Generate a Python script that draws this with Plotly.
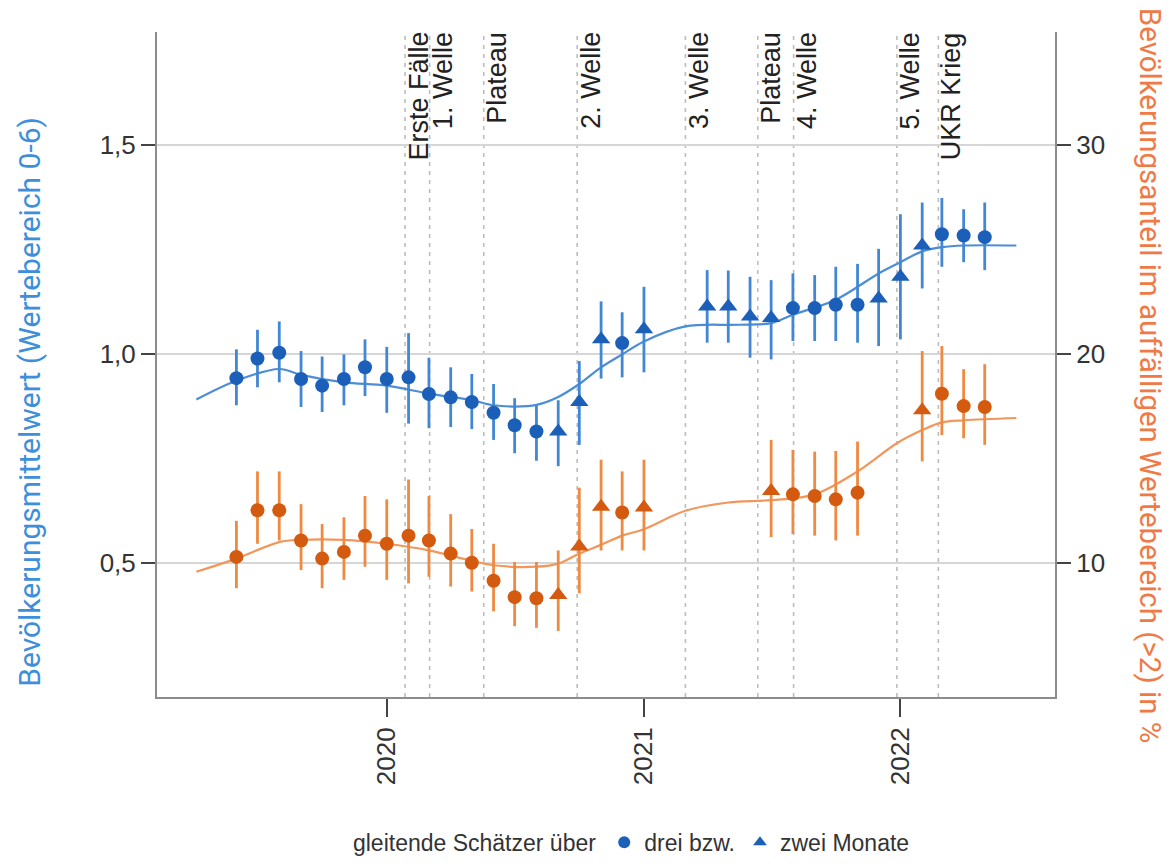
import plotly.graph_objects as go

# ---------------- data ----------------
# left axis: population mean (blue)
blue_dates = ["2019-06-01", "2019-07-01", "2019-08-01", "2019-09-01", "2019-10-01", "2019-11-01",
              "2019-12-01", "2020-01-01", "2020-02-01", "2020-03-01", "2020-04-01", "2020-05-01",
              "2020-06-01", "2020-07-01", "2020-08-01", "2020-09-01", "2020-10-01", "2020-11-01",
              "2020-12-01", "2021-01-01", "2021-04-01", "2021-05-01", "2021-06-01", "2021-07-01",
              "2021-08-01", "2021-09-01", "2021-10-01", "2021-11-01", "2021-12-01", "2022-01-01",
              "2022-02-01", "2022-03-01", "2022-04-01", "2022-05-01"]
blue_mean = [0.942, 0.989, 1.003, 0.940, 0.924, 0.940, 0.968, 0.940, 0.944, 0.904, 0.896, 0.885,
             0.859, 0.829, 0.814, 0.814, 0.885, 1.035, 1.026, 1.059, 1.114, 1.114, 1.090, 1.086,
             1.110, 1.110, 1.118, 1.118, 1.133, 1.185, 1.260, 1.287, 1.284, 1.280]
blue_lo = [0.877, 0.920, 0.932, 0.873, 0.861, 0.877, 0.899, 0.859, 0.833, 0.822, 0.825, 0.820,
           0.794, 0.762, 0.744, 0.731, 0.782, 0.941, 0.944, 0.956, 1.027, 1.027, 0.991, 0.987,
           1.031, 1.031, 1.031, 1.027, 1.019, 1.035, 1.157, 1.209, 1.220, 1.201]
blue_hi = [1.011, 1.058, 1.078, 1.007, 0.994, 0.999, 1.035, 1.017, 1.050, 0.991, 0.968, 0.952,
           0.928, 0.894, 0.877, 0.889, 0.983, 1.126, 1.100, 1.161, 1.201, 1.200, 1.185, 1.177,
           1.193, 1.189, 1.209, 1.216, 1.252, 1.335, 1.363, 1.374, 1.347, 1.363]
blue_kind = ["drei"] * 15 + ["zwei", "zwei", "zwei", "drei", "zwei",
                             "zwei", "zwei", "zwei", "zwei",
                             "drei", "drei", "drei", "drei",
                             "zwei", "zwei", "zwei", "drei", "drei", "drei"]

blue_line_dates = ["2019-04-05", "2019-06-01", "2019-08-01", "2019-09-01", "2019-11-01", "2020-01-01",
                   "2020-03-01", "2020-05-01", "2020-06-01", "2020-07-01", "2020-08-01", "2020-09-01",
                   "2020-10-01", "2020-11-01", "2020-12-01", "2021-01-01", "2021-03-01", "2021-05-15",
                   "2021-07-01", "2021-08-01", "2021-10-01", "2021-12-01", "2022-01-01", "2022-02-01",
                   "2022-03-01", "2022-04-01", "2022-06-15"]
blue_line_vals = [0.891, 0.936, 0.964, 0.950, 0.932, 0.924, 0.905, 0.889, 0.877, 0.874, 0.878, 0.897,
                  0.928, 0.968, 0.999, 1.030, 1.066, 1.070, 1.074, 1.094, 1.130, 1.193, 1.220, 1.246,
                  1.256, 1.260, 1.260]

# right axis: share in conspicuous range in % (orange)
orange_dates = ["2019-06-01", "2019-07-01", "2019-08-01", "2019-09-01", "2019-10-01", "2019-11-01",
                "2019-12-01", "2020-01-01", "2020-02-01", "2020-03-01", "2020-04-01", "2020-05-01",
                "2020-06-01", "2020-07-01", "2020-08-01", "2020-09-01", "2020-10-01", "2020-11-01",
                "2020-12-01", "2021-01-01", "2021-07-01", "2021-08-01", "2021-09-01", "2021-10-01",
                "2021-11-01", "2022-02-01", "2022-03-01", "2022-04-01", "2022-05-01"]
orange_mean = [10.27, 12.51, 12.51, 11.06, 10.19, 10.51, 11.29, 10.90, 11.29, 11.06, 10.43, 9.99,
               9.13, 8.34, 8.29, 8.45, 10.77, 12.67, 12.40, 12.64, 13.43, 13.27, 13.19, 13.03,
               13.35, 17.30, 18.09, 17.50, 17.46]
orange_lo = [8.77, 10.90, 11.06, 9.64, 8.77, 9.17, 9.80, 9.17, 9.00, 9.32, 8.85, 8.61,
             7.66, 6.95, 6.87, 6.72, 8.53, 10.58, 10.58, 10.58, 11.22, 11.37, 11.29, 11.06,
             11.29, 14.85, 16.11, 15.96, 15.64]
orange_hi = [12.00, 14.37, 14.37, 12.80, 11.85, 12.17, 13.19, 13.03, 13.98, 13.19, 12.32, 11.61,
             10.90, 10.03, 10.03, 10.58, 13.59, 14.93, 14.37, 14.93, 15.88, 15.40, 15.32, 15.35,
             15.80, 20.14, 20.38, 19.27, 19.51]
orange_kind = ["drei"] * 15 + ["zwei", "zwei", "zwei", "drei", "zwei",
                               "zwei", "drei", "drei", "drei", "drei",
                               "zwei", "drei", "drei", "drei"]

orange_line_dates = ["2019-04-05", "2019-06-01", "2019-08-01", "2019-09-01", "2019-11-01", "2020-01-01",
                     "2020-03-01", "2020-05-01", "2020-06-01", "2020-08-01", "2020-09-01", "2020-10-01",
                     "2020-11-01", "2020-12-01", "2021-01-01", "2021-03-01", "2021-05-01", "2021-07-01",
                     "2021-09-01", "2021-11-01", "2021-12-27", "2022-02-01", "2022-03-01", "2022-04-01",
                     "2022-06-15"]
orange_line_vals = [9.56, 10.19, 10.98, 11.09, 11.09, 10.90, 10.58, 10.08, 9.87, 9.80, 9.95, 10.43,
                    10.85, 11.29, 11.60, 12.48, 12.88, 12.99, 13.27, 14.37, 15.72, 16.35, 16.72, 16.82,
                    16.93]

event_dates = ["2020-01-27", "2020-03-02", "2020-05-18", "2020-09-28", "2021-03-01",
               "2021-06-12", "2021-08-02", "2021-12-27", "2022-02-24"]
event_labels = ["Erste Fälle", "1. Welle", "Plateau", "2. Welle", "3. Welle",
                "Plateau", "4. Welle", "5. Welle", "UKR Krieg"]

x_tick_vals = ["2020-01-01", "2021-01-01", "2022-01-01"]
x_tick_text = ["2020", "2021", "2022"]
y_tick_vals = [0.5, 1.0, 1.5]
y_tick_text = ["0,5", "1,0", "1,5"]
y2_tick_vals = [10, 20, 30]
y2_tick_text = ["10", "20", "30"]

left_title = "Bevölkerungsmittelwert (Wertebereich 0-6)"
right_title = "Bevölkerungsanteil im auffälligen Wertebereich (>2) in %"
legend_title = "gleitende Schätzer über"
legend_names = {"drei": "drei bzw.", "zwei": "zwei Monate"}

# ---------------- styles ----------------
BLUE_MK = "#1b5fb8"
BLUE_BAR = "#4287d3"
BLUE_LN = "#4b8dd6"
OR_MK = "#d35a0e"
OR_BAR = "#ee8a42"
OR_LN = "#f2975c"
FONT = "Liberation Sans, Arial, sans-serif"
TITLE_FONT = "Roboto, Liberation Sans, sans-serif"

Y_RANGE = [0.1777, 1.7718]
Y2_RANGE = [v * 20 for v in Y_RANGE]

fig = go.Figure()

fig.add_trace(go.Scatter(x=blue_line_dates, y=blue_line_vals, mode="lines",
                         line=dict(color=BLUE_LN, width=2.2, shape="spline", smoothing=1.0),
                         showlegend=False, hoverinfo="skip"))
fig.add_trace(go.Scatter(x=orange_line_dates, y=orange_line_vals, mode="lines", yaxis="y2",
                         line=dict(color=OR_LN, width=2.2, shape="spline", smoothing=1.0),
                         showlegend=False, hoverinfo="skip"))


def add_points(dates, mean, lo, hi, kinds, mk, bar, yaxis, legend):
    for kind, symbol, size in (("drei", "circle", 14), ("zwei", "triangle-up", 16)):
        idx = [i for i, k in enumerate(kinds) if k == kind]
        xs = [dates[i] for i in idx]
        ys = [mean[i] for i in idx]
        up = [hi[i] - mean[i] for i in idx]
        dn = [mean[i] - lo[i] for i in idx]
        fig.add_trace(go.Scatter(
            x=xs, y=ys, mode="markers", yaxis=yaxis,
            name=legend_names[kind], showlegend=legend,
            marker=dict(symbol=symbol, size=size, color=mk, line=dict(width=0)),
            error_y=dict(type="data", symmetric=False, array=up, arrayminus=dn,
                         color=bar, thickness=2.8, width=0),
        ))


add_points(orange_dates, orange_mean, orange_lo, orange_hi, orange_kind, OR_MK, OR_BAR, "y2", False)
add_points(blue_dates, blue_mean, blue_lo, blue_hi, blue_kind, BLUE_MK, BLUE_BAR, "y", True)

shapes = []
annotations = []
for d, lab in zip(event_dates, event_labels):
    shapes.append(dict(type="line", xref="x", yref="paper", x0=d, x1=d, y0=0, y1=0.995,
                       line=dict(color="#bdbdbd", width=1.6, dash="4px,5px"), layer="below"))
    annotations.append(dict(x=d, y=1.0, xref="x", yref="paper", text=lab, textangle=-90,
                            showarrow=False, xanchor="left", yanchor="top", xshift=-4, yshift=2,
                            font=dict(family=FONT, size=27, color="#222222")))

annotations.append(dict(x=-0.1414, y=0.444, xref="paper", yref="paper", text=left_title,
                        textangle=-90, showarrow=False, xanchor="center", yanchor="middle",
                        font=dict(family=TITLE_FONT, size=30, color="#3d8fdc")))
annotations.append(dict(x=1.1058, y=0.483, xref="paper", yref="paper", text=right_title,
                        textangle=90, showarrow=False, xanchor="center", yanchor="middle",
                        font=dict(family=TITLE_FONT, size=29.5, color="#f07a45")))

fig.update_layout(
    width=1174, height=868,
    margin=dict(l=149, r=127, t=24, b=171),
    paper_bgcolor="white", plot_bgcolor="white",
    font=dict(family=FONT, size=26, color="#333333"),
    shapes=shapes, annotations=annotations,
    showlegend=True,
    legend=dict(orientation="h", x=0.53, y=-0.2184, xanchor="center", yanchor="middle",
                title=dict(text=legend_title, side="left", font=dict(size=23, color="#333333")),
                font=dict(size=23, color="#333333"), itemsizing="constant",
                bgcolor="rgba(0,0,0,0)"),
    xaxis=dict(type="date", range=["2019-02-08", "2022-08-09"],
               tickvals=x_tick_vals, ticktext=x_tick_text, tickangle=-90,
               showgrid=False, zeroline=False, showline=True, linecolor="#8c8c8c", linewidth=2,
               ticks="outside", ticklen=18, tickwidth=2, tickcolor="#444444",
               tickfont=dict(size=26, color="#333333")),
    yaxis=dict(range=Y_RANGE, tickvals=y_tick_vals, ticktext=y_tick_text,
               showgrid=True, gridcolor="#d6d6d6", gridwidth=2, zeroline=False,
               showline=True, linecolor="#8c8c8c", linewidth=2,
               ticks="outside", ticklen=14, tickwidth=2, tickcolor="#444444",
               tickfont=dict(size=26, color="#333333")),
    yaxis2=dict(range=Y2_RANGE, overlaying="y", side="right", tickvals=y2_tick_vals,
                ticktext=y2_tick_text, showgrid=False, zeroline=False,
                showline=True, linecolor="#8c8c8c", linewidth=2,
                ticks="outside", ticklen=14, tickwidth=2, tickcolor="#444444",
                tickfont=dict(size=26, color="#333333")),
)

fig.write_html("out.html")
